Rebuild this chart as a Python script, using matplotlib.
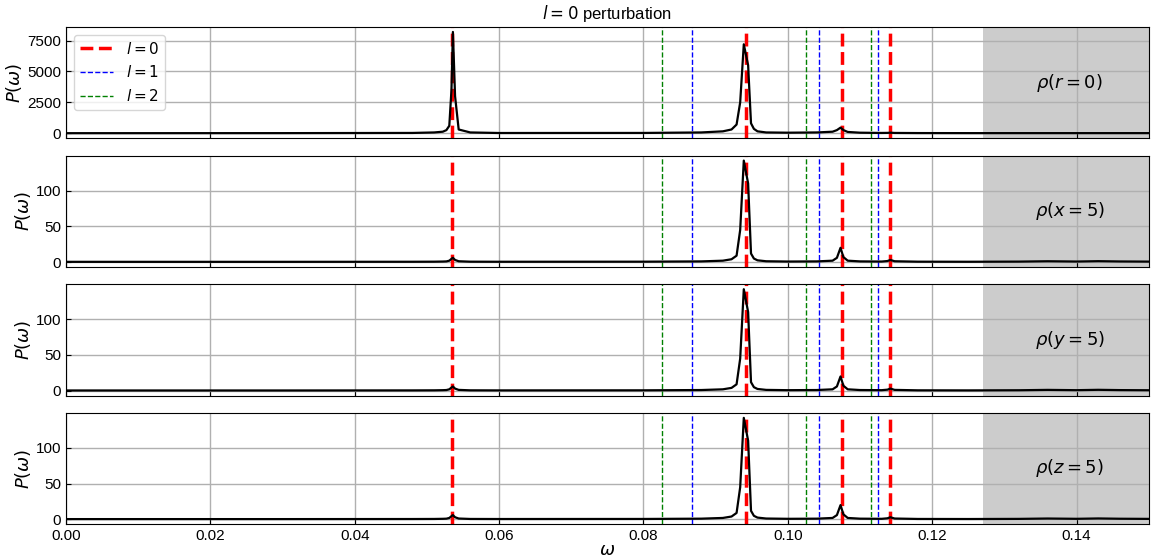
import numpy as np
import matplotlib.pyplot as plt

plt.rcParams['font.family'] = ['Liberation Sans', 'DejaVu Sans']
plt.rcParams['mathtext.fontset'] = 'dejavusans'
plt.rcParams['font.size'] = 11

# ===== Data =====
omega = [0.0000, 0.0300, 0.0480, 0.0510, 0.0522, 0.0527, 0.0531, 0.0534, 0.0536,
         0.0539, 0.0544, 0.0560, 0.0600, 0.0800, 0.0880, 0.0910, 0.0922, 0.0929,
         0.0934, 0.0939, 0.0945, 0.0949, 0.0953, 0.0958, 0.0970, 0.1000, 0.1040,
         0.1062, 0.1068, 0.1073, 0.1077, 0.1083, 0.1100, 0.1130, 0.1138, 0.1142,
         0.1148, 0.1180, 0.1250, 0.1320, 0.1360, 0.1400, 0.1430, 0.1460, 0.1500]

p_r0 = [0, 5, 20, 60, 120, 250, 600, 3500, 8200,
        3000, 300, 60, 15, 20, 60, 150, 300, 700,
        2500, 7200, 5500, 800, 350, 150, 60, 40, 60,
        120, 250, 450, 250, 100, 40, 20, 25, 40,
        20, 10, 5, 5, 5, 5, 5, 5, 5]

p_x5 = [0.4, 0.4, 0.5, 0.6, 0.8, 1.0, 2.0, 4.5, 6.0,
        3.0, 1.2, 0.6, 0.5, 0.6, 1.0, 2.0, 4.0, 9.0,
        45.0, 142.0, 110.0, 12.0, 5.0, 2.5, 1.2, 0.8, 1.0,
        2.0, 6.0, 20.0, 7.0, 2.0, 1.0, 0.8, 1.5, 3.0,
        1.2, 0.6, 0.5, 0.7, 1.2, 0.8, 1.3, 0.9, 0.7]

p_y5 = [0.4, 0.4, 0.5, 0.6, 0.8, 1.0, 2.0, 4.5, 6.0,
        3.0, 1.2, 0.6, 0.5, 0.6, 1.0, 2.0, 4.0, 9.0,
        45.0, 142.0, 110.0, 12.0, 5.0, 2.5, 1.2, 0.8, 1.0,
        2.0, 6.0, 20.0, 7.0, 2.0, 1.0, 0.8, 1.5, 3.0,
        1.2, 0.6, 0.5, 0.7, 1.2, 0.8, 1.3, 0.9, 0.7]

p_z5 = [0.4, 0.4, 0.5, 0.6, 0.8, 1.0, 2.0, 4.5, 6.0,
        3.0, 1.2, 0.6, 0.5, 0.6, 1.0, 2.0, 4.0, 9.0,
        45.0, 142.0, 110.0, 12.0, 5.0, 2.5, 1.2, 0.8, 1.0,
        2.0, 6.0, 20.0, 7.0, 2.0, 1.0, 0.8, 1.5, 3.0,
        1.2, 0.6, 0.5, 0.7, 1.2, 0.8, 1.3, 0.9, 0.7]

panels = [r'$\rho(r=0)$', r'$\rho(x=5)$', r'$\rho(y=5)$', r'$\rho(z=5)$']
spectra = [p_r0, p_x5, p_y5, p_z5]

# mode frequencies
freq_l0 = [0.0535, 0.0942, 0.1075, 0.1141]
freq_l1 = [0.0867, 0.1043, 0.1125]
freq_l2 = [0.0825, 0.1025, 0.1115]
cutoff = 0.1270

fig, axes = plt.subplots(4, 1, figsize=(11.58, 5.6), dpi=100, sharex=True)
fig.subplots_adjust(left=0.057, right=0.992, top=0.952, bottom=0.064, hspace=0.155)

for i, ax in enumerate(axes):
    ax.plot(omega, spectra[i], color='black', lw=1.6, zorder=3)
    ax.axvspan(cutoff, 0.15, color='gray', alpha=0.4, lw=0)
    for j, f in enumerate(freq_l0):
        ax.axvline(f, color='red', ls='--', lw=2.5, zorder=2,
                   label=r'$l=0$' if j == 0 else None)
    for j, f in enumerate(freq_l1):
        ax.axvline(f, color='blue', ls='--', lw=1, zorder=2,
                   label=r'$l=1$' if j == 0 else None)
    for j, f in enumerate(freq_l2):
        ax.axvline(f, color='green', ls='--', lw=1, zorder=2,
                   label=r'$l=2$' if j == 0 else None)
    ax.text(0.927, 0.5, panels[i], transform=ax.transAxes, fontsize=13,
            ha='center', va='center')
    ax.set_ylabel(r'$P(\omega)$', fontsize=13, labelpad=2)
    ax.grid(True, color='#b0b0b0', lw=1)
    ax.tick_params(direction='in', labelsize=11)
    ax.set_xlim(0, 0.15)

axes[0].set_yticks([0, 2500, 5000, 7500])
for ax in axes[1:]:
    ax.set_yticks([0, 50, 100])
axes[0].legend(loc='upper left', fontsize=11, handlelength=2.2)
axes[0].set_title(r'$l=0$ perturbation', fontsize=12)
axes[-1].set_xlabel(r'$\omega$', fontsize=13, labelpad=-1)

plt.savefig('out.png', dpi=100)
